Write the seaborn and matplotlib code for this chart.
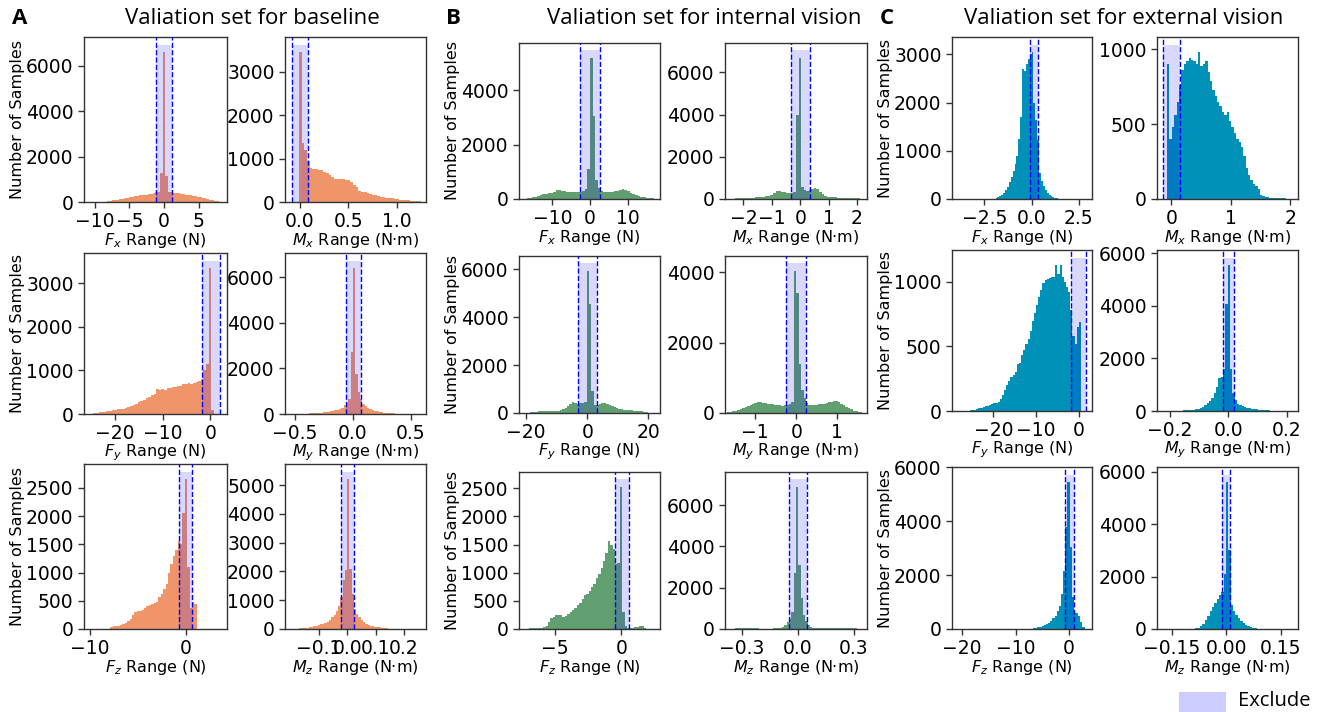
import numpy as np
import pandas as pd
import matplotlib
matplotlib.use("Agg")
import matplotlib.pyplot as plt
import seaborn as sns
from matplotlib.patches import Rectangle

# ---------------- data (bin counts) ----------------
# A: baseline
fx_base_range = (-9.275, 8.225)
fx_base_counts = [10, 15, 20, 30, 50, 70, 90, 110, 130, 150, 170, 190, 210, 230, 250, 270, 300, 290, 310, 330,
                  340, 370, 400, 450, 450, 1300, 6600, 1150, 450, 420, 400, 390, 380, 370, 350, 330, 310, 290, 270, 250,
                  230, 200, 180, 160, 130, 100, 70, 50, 25, 10]
mx_base_range = (-0.012, 1.304)
mx_base_counts = [3450, 1350, 1200, 950, 780, 760, 750, 740, 730, 700, 660, 620, 580, 540, 530, 520, 520, 510, 500, 470,
                  400, 340, 260, 240, 230, 200, 180, 170, 160, 140, 120, 110, 100, 95, 90, 80, 60, 50, 45, 40,
                  35, 30, 25, 20, 15, 10, 5]
fy_base_range = (-25.65, 0.75)
fy_base_counts = [5, 10, 15, 25, 35, 45, 55, 65, 75, 85, 95, 105, 115, 125, 140, 160, 180, 210, 240, 270,
                  300, 330, 370, 400, 430, 470, 570, 560, 570, 560, 590, 600, 610, 630, 640, 650, 680, 690, 700, 690,
                  720, 740, 760, 800, 1000, 1150, 3350, 100]
my_base_range = (-0.5, 0.46)
my_base_counts = [5, 8, 10, 12, 15, 20, 25, 30, 35, 40, 50, 60, 70, 85, 100, 120, 140, 160, 190, 230,
                  280, 380, 500, 650, 2700, 6400, 1750, 950, 650, 450, 330, 250, 200, 160, 130, 110, 90, 75, 60, 50,
                  40, 32, 25, 20, 15, 10, 6, 3]
fz_base_range = (-7.85, 1.15)
fz_base_counts = [40, 50, 55, 60, 70, 90, 110, 140, 170, 250, 300, 310, 320, 330, 380, 400, 420, 440, 460, 480,
                  560, 620, 700, 800, 1000, 1150, 1300, 1400, 1550, 1500, 2050, 2650, 1100, 380, 470, 450]
mz_base_range = (-0.192, 0.16)
mz_base_counts = [5, 8, 12, 18, 25, 35, 45, 60, 80, 100, 120, 140, 160, 190, 220, 260, 330, 420, 500, 620,
                  800, 1100, 1700, 2050, 5200, 2100, 1200, 700, 520, 400, 300, 240, 190, 150, 120, 100, 85, 70, 60, 50,
                  40, 25, 12, 5]

# B: internal vision
fx_int_range = (-17.5, 17.5)
fx_int_counts = [15, 25, 40, 60, 80, 100, 130, 170, 200, 220, 230, 260, 320, 340, 310, 280, 260, 250, 240, 250,
                 240, 260, 280, 350, 1100, 5200, 3050, 700, 400, 280, 250, 250, 260, 270, 280, 300, 330, 360, 340, 280,
                 220, 180, 150, 120, 90, 70, 50, 35, 20, 10]
mx_int_range = (-2.49, 2.19)
mx_int_counts = [15, 20, 25, 35, 45, 50, 55, 60, 65, 70, 80, 90, 100, 110, 130, 160, 200, 300, 400, 380,
                 350, 330, 300, 280, 300, 350, 4000, 6700, 550, 420, 400, 430, 480, 530, 450, 330, 220, 150, 110, 90,
                 80, 75, 70, 70, 65, 60, 55, 55, 50, 40, 25, 10]
fy_int_range = (-18.6, 20.6)
fy_int_counts = [30, 40, 60, 80, 100, 95, 90, 85, 80, 80, 85, 100, 130, 170, 220, 300, 380, 480, 420, 380,
                 420, 400, 450, 5950, 4550, 900, 350, 330, 360, 400, 420, 380, 330, 280, 240, 200, 170, 150, 140, 130,
                 120, 110, 100, 90, 80, 70, 50, 30, 15]
my_int_range = (-1.68, 1.62)
my_int_counts = [15, 30, 50, 70, 90, 110, 140, 170, 200, 230, 260, 290, 310, 300, 290, 280, 270, 260, 250, 240,
                 230, 220, 210, 220, 230, 250, 300, 4050, 3400, 1400, 650, 420, 280, 230, 220, 230, 240, 250, 260, 270,
                 280, 300, 320, 340, 330, 300, 260, 220, 180, 140, 100, 70, 50, 30, 15]
fz_int_range = (-6.96, 1.86)
fz_int_counts = [10, 12, 15, 18, 20, 25, 35, 60, 130, 190, 220, 240, 250, 240, 210, 230, 260, 300, 330, 370,
                 420, 470, 530, 600, 630, 680, 750, 800, 900, 980, 1080, 1200, 1350, 1560, 1500, 1420, 1150, 1180, 2530, 300,
                 60, 20, 15, 20, 30, 40, 50, 45, 20]
mz_int_range = (-0.35875, 0.34125)
mz_int_counts = [10, 20, 30, 50, 60, 65, 60, 50, 40, 35, 30, 25, 22, 20, 20, 20, 20, 22, 25, 30,
                 40, 60, 100, 180, 350, 500, 800, 2700, 6900, 3100, 1500, 700, 380, 200, 110, 70, 50, 40, 35, 30,
                 30, 30, 35, 40, 45, 50, 55, 55, 50, 45, 40, 35, 30, 25, 20, 10]

# C: external vision
fx_ext_range = (-2.0, 1.5)
fx_ext_counts = [10, 20, 35, 60, 90, 120, 180, 250, 350, 450, 580, 720, 900, 1250, 1700, 2700, 2650, 2800, 2900, 3000,
                 3050, 2000, 1650, 1230, 550, 380, 270, 190, 130, 90, 60, 40, 25, 12, 5]
mx_ext_range = (-0.07, 2.01)
mx_ext_counts = [900, 400, 480, 560, 650, 760, 860, 900, 920, 940, 930, 920, 900, 980, 890, 900, 920, 850, 790, 730,
                 690, 650, 620, 580, 560, 580, 520, 480, 440, 400, 380, 350, 290, 210, 160, 130, 100, 90, 70, 30,
                 20, 15, 12, 10, 10, 8, 8, 6, 5, 4, 3, 2]
fy_ext_range = (-25.5, 0.5)
fy_ext_counts = [5, 8, 10, 15, 20, 25, 30, 35, 40, 45, 55, 60, 65, 70, 90, 120, 160, 200, 230, 260,
                 280, 300, 360, 370, 430, 470, 520, 560, 620, 700, 760, 820, 880, 940, 990, 1010, 1020, 1030, 1040, 1040,
                 1130, 1060, 1130, 1040, 1000, 960, 920, 780, 580, 520, 650, 690]
my_ext_range = (-0.218, 0.214)
my_ext_counts = [3, 4, 5, 6, 8, 10, 12, 15, 20, 25, 30, 40, 55, 70, 90, 120, 160, 220, 290, 380,
                 500, 680, 900, 1250, 1300, 1600, 4050, 5550, 1600, 700, 400, 280, 220, 180, 150, 120, 100, 85, 70, 60,
                 50, 40, 32, 26, 20, 15, 12, 10, 8, 6, 5, 4, 3, 2]
fz_ext_range = (-7.1, 2.9)
fz_ext_counts = [15, 25, 40, 60, 90, 110, 140, 180, 230, 300, 400, 500, 650, 850, 1300, 2150, 3800, 5450, 3050, 1200,
                 600, 580, 500, 250, 60]
mz_ext_range = (-0.091, 0.091)
mz_ext_counts = [10, 20, 40, 100, 200, 330, 500, 700, 850, 980, 1150, 1300, 1400, 2100, 5600, 3000, 900, 700, 550, 420,
                 300, 220, 160, 110, 70, 40, 20, 8]

# exclusion zones (lower, upper)
excl_base = [(-1.2, 1.2), (-0.086, 0.086), (-1.75, 2.0), (-0.063, 0.066), (-0.7, 0.7), (-0.023, 0.023)]
excl_int = [(-2.6, 2.5), (-0.33, 0.35), (-2.9, 3.05), (-0.25, 0.24), (-0.45, 0.55), (-0.045, 0.05)]
excl_ext = [(-0.08, 0.32), (-0.135, 0.146), (-1.9, 1.6), (-0.0194, 0.0194), (-0.68, 0.87), (-0.0101, 0.011)]

# tick labels
xticks_base = [[-10, -5, 0, 5], [0.0, 0.5, 1.0], [-20, -10, 0], [-0.5, 0.0, 0.5], [-10, 0], [-0.1, 0.0, 0.1, 0.2]]
xticks_int = [[-10, 0, 10], [-2, -1, 0, 1, 2], [-20, 0, 20], [-1, 0, 1], [-5, 0], [-0.3, 0.0, 0.3]]
xticks_ext = [[-2.5, 0.0, 2.5], [0, 1, 2], [-20, -10, 0], [-0.2, 0.0, 0.2], [-20, -10, 0], [-0.15, 0.0, 0.15]]
yticks_base = [[0, 2000, 4000, 6000], [0, 1000, 2000, 3000], [0, 1000, 2000, 3000], [0, 2000, 4000, 6000],
               [0, 500, 1000, 1500, 2000, 2500], [0, 1000, 2000, 3000, 4000, 5000]]
yticks_int = [[0, 2000, 4000], [0, 2000, 4000, 6000], [0, 2000, 4000, 6000], [0, 2000, 4000],
              [0, 500, 1000, 1500, 2000, 2500], [0, 2000, 4000, 6000]]
yticks_ext = [[0, 1000, 2000, 3000], [0, 500, 1000], [0, 500, 1000], [0, 2000, 4000, 6000],
              [0, 2000, 4000, 6000], [0, 2000, 4000, 6000]]

xlabels = [r'$F_x$ Range (N)', r'$M_x$ Range (N·m)', r'$F_y$ Range (N)', r'$M_y$ Range (N·m)',
           r'$F_z$ Range (N)', r'$M_z$ Range (N·m)']
group_titles = ['Valiation set for baseline', 'Valiation set for internal vision', 'Valiation set for external vision']
group_letters = ['A', 'B', 'C']

# ---------------- layout (pixels) ----------------
W, H = 1320, 712
xlims_base = [(-11.55, 9.1), (-0.155, 1.303), (-26.5, 3.5), (-0.586, 0.629), (-10.6, 4.3), (-0.219, 0.278)]
xlims_int = [(-18.8, 18.5), (-2.65, 2.35), (-22.3, 23.8), (-1.74, 1.73), (-7.7, 2.9), (-0.39, 0.371)]
xlims_ext = [(-4.2, 3.19), (-0.24, 2.13), (-29.7, 3.1), (-0.243, 0.238), (-21.9, 4.3), (-0.19, 0.198)]
col_px = {'A': [(84, 227), (285, 426)], 'B': [(519, 660), (725, 867)], 'C': [(952, 1092), (1157, 1298)]}
row_px = {'A': [(37, 202), (253, 414), (464, 629)], 'B': [(43, 199), (256, 413), (472, 629)],
          'C': [(37, 199), (250, 411), (467, 629)]}
colors = {'A': '#F0956A', 'B': '#629F70', 'C': '#0091B8'}
title_cx = {'A': 252, 'B': 704, 'C': 1124}
letter_x = {'A': 12, 'B': 446, 'C': 880}

groups = {
    'A': dict(data=[(fx_base_counts, fx_base_range), (mx_base_counts, mx_base_range), (fy_base_counts, fy_base_range),
                    (my_base_counts, my_base_range), (fz_base_counts, fz_base_range), (mz_base_counts, mz_base_range)],
              excl=excl_base, xt=xticks_base, yt=yticks_base, xl=xlims_base),
    'B': dict(data=[(fx_int_counts, fx_int_range), (mx_int_counts, mx_int_range), (fy_int_counts, fy_int_range),
                    (my_int_counts, my_int_range), (fz_int_counts, fz_int_range), (mz_int_counts, mz_int_range)],
              excl=excl_int, xt=xticks_int, yt=yticks_int, xl=xlims_int),
    'C': dict(data=[(fx_ext_counts, fx_ext_range), (mx_ext_counts, mx_ext_range), (fy_ext_counts, fy_ext_range),
                    (my_ext_counts, my_ext_range), (fz_ext_counts, fz_ext_range), (mz_ext_counts, mz_ext_range)],
              excl=excl_ext, xt=xticks_ext, yt=yticks_ext, xl=xlims_ext),
}

sns.set_style("ticks")
plt.rcParams['font.family'] = ['DejaVu Sans']
plt.rcParams['mathtext.fontset'] = 'dejavusans'
plt.rcParams['axes.edgecolor'] = '#333333'
plt.rcParams['axes.linewidth'] = 1.0
plt.rcParams['text.color'] = 'black'
plt.rcParams['axes.labelcolor'] = 'black'

fig = plt.figure(figsize=(W / 100, H / 100), dpi=100)

for gi, g in enumerate(['A', 'B', 'C']):
    info = groups[g]
    for k in range(6):
        r, c = divmod(k, 2)
        (l, rr), (t, b) = col_px[g][c], row_px[g][r]
        ax = fig.add_axes([l / W, 1 - b / H, (rr - l) / W, (b - t) / H])
        counts, (lo, hi) = info['data'][k]
        counts = np.asarray(counts, dtype=float)
        edges = np.linspace(lo, hi, len(counts) + 1)
        df = pd.DataFrame({'value': (edges[:-1] + edges[1:]) / 2, 'n': counts})
        sns.histplot(data=df, x='value', weights='n', bins=list(edges), ax=ax, color=colors[g],
                     alpha=1, linewidth=0, zorder=2)
        top = counts.max() * 1.05
        e0, e1 = info['excl'][k]
        ax.fill_between([e0, e1], 0, top, color='blue', alpha=0.15, linewidth=0, zorder=3)
        ax.axvline(e0, color='blue', ls='--', lw=1, zorder=4)
        ax.axvline(e1, color='blue', ls='--', lw=1, zorder=4)
        ax.set_xlim(*info['xl'][k])
        ax.set_ylim(0, top * 1.05)
        ax.set_xticks(info['xt'][k])
        ax.set_yticks(info['yt'][k])
        ax.tick_params(labelsize=13.5, length=4, width=1, color='#333333', labelcolor='black')
        ax.set_xlabel(xlabels[k], fontsize=11.5, labelpad=-0.5)
        if c == 0:
            ax.set_ylabel('Number of Samples', fontsize=11.5, labelpad=0.5)
        else:
            ax.set_ylabel('')
        for s in ax.spines.values():
            s.set_visible(True)
    fig.text(letter_x[g] / W, 1 - 18 / H, group_letters[gi], fontsize=16, fontweight='bold',
             family=['Open Sans', 'DejaVu Sans'], va='center', ha='left')
    fig.text(title_cx[g] / W, 1 - 18 / H, group_titles[gi], fontsize=16,
             family=['Open Sans', 'DejaVu Sans'], va='center', ha='center')

fig.add_artist(Rectangle((1179 / W, 0), 47 / W, 20 / H, transform=fig.transFigure,
                         facecolor='#ccccff', edgecolor='none'))
fig.text(1238 / W, 1 - 701 / H, 'Exclude', fontsize=14.5, family=['Open Sans', 'DejaVu Sans'],
         va='center', ha='left')

fig.savefig('out.png', dpi=100)
